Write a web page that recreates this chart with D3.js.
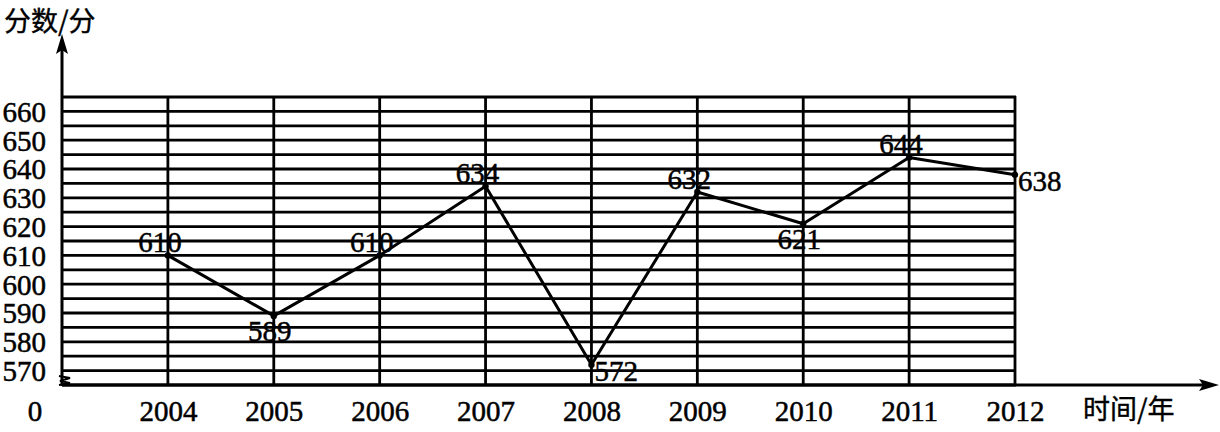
<!DOCTYPE html>
<html>
<head>
<meta charset="utf-8">
<script src="https://cdn.jsdelivr.net/npm/d3@7"></script>
<style>
    body { margin: 0; background: #fff; }
    svg { display: block; }
    .num { font-family: "Liberation Serif", "DejaVu Serif", serif; font-size: 29px; fill: #000; stroke: #000; stroke-width: 0.5px; }
    .cjk { font-family: "Noto Sans CJK SC", sans-serif; font-size: 27px; fill: #000; stroke: #000; stroke-width: 0.4px; }
</style>
</head>
<body>
<svg width="1220" height="432"></svg>
<script>
// data
const years = [2004, 2005, 2006, 2007, 2008, 2009, 2010, 2011, 2012];
const scores = [610, 589, 610, 634, 572, 632, 621, 644, 638];
const yTicks = [570, 580, 590, 600, 610, 620, 630, 640, 650, 660];
const gridLevels = d3.range(565, 666, 5);

// where each value label sits relative to its point
const labelSide = ["top", "bottom", "top", "top", "right", "top", "bottom", "top", "right"];

const svg = d3.select("svg");
const x0 = 62, y0 = 385;

let xScale = d3.scaleLinear()
    .domain([2003, 2012])
    .range([x0, 1015]);

let yScale = d3.scaleLinear()
    .domain([565, 665])
    .range([y0, 97]);

const black = "#000";

// horizontal grid
svg.append("g")
    .selectAll("line")
    .data(gridLevels)
    .enter()
    .append("line")
    .attr("x1", x0)
    .attr("x2", xScale(2012) + 1)
    .attr("y1", d => yScale(d))
    .attr("y2", d => yScale(d))
    .attr("stroke", black)
    .attr("stroke-width", 2.8);

// vertical grid
svg.append("g")
    .selectAll("line")
    .data(years)
    .enter()
    .append("line")
    .attr("x1", d => xScale(d))
    .attr("x2", d => xScale(d))
    .attr("y1", yScale(665) - 1)
    .attr("y2", y0)
    .attr("stroke", black)
    .attr("stroke-width", 2.8);

// axes with arrows
svg.append("line")
    .attr("x1", x0).attr("y1", y0 + 1)
    .attr("x2", x0).attr("y2", 45)
    .attr("stroke", black).attr("stroke-width", 3);
svg.append("path")
    .attr("d", `M${x0},34 L${x0 - 6},54 L${x0},50 L${x0 + 6},54 Z`)
    .attr("fill", black);

svg.append("line")
    .attr("x1", x0).attr("y1", y0)
    .attr("x2", 1208).attr("y2", y0)
    .attr("stroke", black).attr("stroke-width", 3);
svg.append("path")
    .attr("d", `M1219,${y0} L1199,${y0 - 6} L1203,${y0} L1199,${y0 + 6} Z`)
    .attr("fill", black);

// axis break mark
svg.append("path")
    .attr("d", `M${x0 - 3},${y0 - 9} L${x0 + 8},${y0 - 7} L${x0 - 2},${y0 - 4} L${x0 + 8},${y0 - 2} L${x0 - 3},${y0}`)
    .attr("fill", "none")
    .attr("stroke", black)
    .attr("stroke-width", 2);

// y tick labels
let yAxis = d3.axisLeft(yScale)
    .tickValues(yTicks)
    .tickSize(0)
    .tickPadding(0);
let gY = svg.append("g")
    .attr("transform", `translate(46, 0)`)
    .call(yAxis);
gY.select(".domain").remove();
gY.selectAll("text")
    .attr("class", "num")
    .attr("dy", "0.34em")
    .attr("font-family", null)
    .attr("font-size", null)
    .attr("fill", null);

// x tick labels
let xAxis = d3.axisBottom(xScale)
    .tickValues(years)
    .tickFormat(d3.format("d"))
    .tickSize(0)
    .tickPadding(0);
let gX = svg.append("g")
    .call(xAxis);
gX.select(".domain").remove();
gX.selectAll("text")
    .attr("class", "num")
    .attr("y", 421)
    .attr("dy", null)
    .attr("font-family", null)
    .attr("font-size", null)
    .attr("fill", null);

svg.append("text")
    .attr("class", "num")
    .attr("x", 35).attr("y", 421)
    .attr("text-anchor", "middle")
    .text("0");

// axis titles
svg.append("text")
    .attr("class", "cjk")
    .attr("x", 4).attr("y", 31)
    .text("分数/分");
svg.append("text")
    .attr("class", "cjk")
    .attr("x", 1083).attr("y", 419)
    .text("时间/年");

// the line
let pts = years.map((y, i) => ({ year: y, score: scores[i], side: labelSide[i] }));

let line = d3.line()
    .x(d => xScale(d.year))
    .y(d => yScale(d.score));

svg.append("path")
    .datum(pts)
    .attr("d", line)
    .attr("fill", "none")
    .attr("stroke", black)
    .attr("stroke-width", 3)
    .attr("stroke-linejoin", "round");

svg.append("g")
    .selectAll("circle")
    .data(pts)
    .enter()
    .append("circle")
    .attr("cx", d => xScale(d.year))
    .attr("cy", d => yScale(d.score))
    .attr("r", 3.2)
    .attr("fill", black);

// value labels
svg.append("g")
    .selectAll("text")
    .data(pts)
    .enter()
    .append("text")
    .attr("class", "num")
    .attr("x", d => xScale(d.year) + (d.side == "right" ? 3 : d.side == "top" ? -8 : -4))
    .attr("y", d => yScale(d.score) + (d.side == "right" ? 16 : d.side == "top" ? -3 : 25))
    .attr("text-anchor", d => d.side == "right" ? "start" : "middle")
    .text(d => d.score);
</script>
</body>
</html>
